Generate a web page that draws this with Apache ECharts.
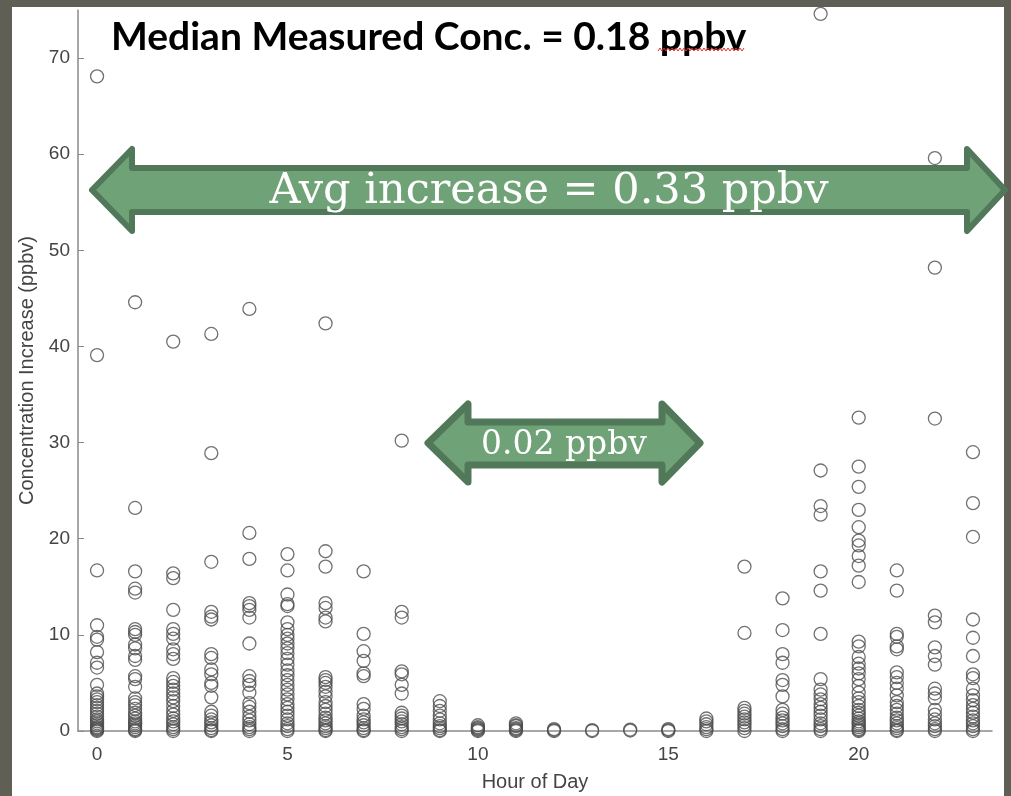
<!DOCTYPE html>
<html>
<head>
<meta charset="utf-8">
<script src="https://cdn.jsdelivr.net/npm/echarts@6/dist/echarts.min.js"></script>
<style>
  html, body { margin: 0; padding: 0; background: #5f5f56; }
  #wrap { position: relative; width: 1011px; height: 796px; background: #5f5f56; }
  #paper { position: absolute; left: 12px; top: 7px; width: 992px; height: 789px; background: #fff; }
  #main { position: absolute; left: 0; top: 0; width: 1011px; height: 796px; }
</style>
</head>
<body>
<div id="wrap">
  <div id="paper"></div>
  <div id="main"></div>
</div>
<script>
// concentration increase (ppbv) per hour of day
const hour0 = [68.1, 39.1, 16.7, 11.0, 9.8, 9.5, 8.2, 7.1, 6.6, 4.8, 3.9, 3.6, 3.3, 3.0, 2.7, 2.4, 2.1, 1.8, 1.5, 1.2, 1.0, 0.8, 0.6, 0.4, 0.3, 0.2, 0.1, 0];
const hour1 = [44.6, 23.2, 16.6, 14.8, 14.4, 10.6, 10.3, 10.0, 9.0, 8.6, 7.8, 7.4, 5.7, 5.4, 4.6, 3.4, 3.0, 2.7, 2.3, 1.9, 1.6, 1.3, 1.0, 0.8, 0.6, 0.4, 0.2, 0.1, 0];
const hour2 = [40.5, 16.4, 15.9, 12.6, 10.6, 10.1, 9.6, 8.5, 8.0, 7.5, 5.5, 5.1, 4.7, 4.3, 3.9, 3.5, 3.1, 2.6, 2.1, 1.7, 1.3, 1.0, 0.7, 0.4, 0.2, 0];
const hour3 = [41.3, 28.9, 17.6, 12.4, 11.9, 11.6, 8.0, 7.6, 6.4, 5.9, 5.0, 4.7, 3.5, 2.0, 1.6, 1.2, 0.9, 0.6, 0.3, 0.1, 0];
const hour4 = [43.9, 20.6, 17.9, 13.3, 13.0, 12.6, 11.8, 9.1, 5.7, 5.2, 4.8, 4.0, 2.9, 2.5, 2.0, 1.5, 1.1, 0.7, 0.4, 0.2, 0];
const hour5 = [18.4, 16.7, 14.2, 13.2, 13.0, 11.3, 10.6, 10.0, 9.6, 9.1, 8.6, 8.1, 7.5, 6.9, 6.3, 5.8, 5.3, 4.8, 4.3, 3.8, 3.3, 2.8, 2.4, 2.0, 1.6, 1.2, 0.8, 0.5, 0.2, 0];
const hour6 = [42.4, 18.7, 17.1, 13.3, 12.8, 11.8, 11.4, 5.6, 5.3, 5.0, 4.6, 4.1, 3.6, 3.0, 2.6, 2.2, 1.8, 1.4, 1.1, 0.8, 0.5, 0.3, 0.1, 0];
const hour7 = [16.6, 10.1, 8.3, 7.3, 6.0, 5.7, 2.8, 2.3, 1.6, 1.2, 0.9, 0.6, 0.3, 0.1, 0];
const hour8 = [30.2, 12.4, 11.8, 6.2, 5.9, 4.8, 3.9, 1.9, 1.6, 1.3, 1.0, 0.7, 0.4, 0.2, 0];
const hour9 = [3.1, 2.6, 2.1, 1.6, 1.2, 0.8, 0.5, 0.3, 0.1, 0];
const hour10 = [0.6, 0.4, 0.3, 0.2, 0.1, 0];
const hour11 = [0.8, 0.6, 0.5, 0.3, 0.2, 0.1, 0];
const hour12 = [0.2, 0.1, 0];
const hour13 = [0.1, 0];
const hour14 = [0.15, 0.05];
const hour15 = [0.2, 0.1, 0];
const hour16 = [1.3, 1.0, 0.7, 0.4, 0.2, 0];
const hour17 = [17.1, 10.2, 2.4, 2.1, 1.8, 1.5, 1.2, 0.9, 0.6, 0.3, 0];
const hour18 = [13.8, 10.5, 8.0, 7.1, 5.3, 4.8, 3.6, 2.2, 1.8, 1.4, 1.1, 0.8, 0.5, 0.2, 0];
const hour19 = [74.6, 27.1, 23.4, 22.5, 16.6, 14.6, 10.1, 5.4, 4.3, 3.8, 3.3, 2.8, 2.4, 2.0, 1.6, 1.2, 0.8, 0.5, 0.2, 0];
const hour20 = [32.6, 27.5, 25.4, 23.0, 21.2, 19.8, 19.3, 18.2, 17.2, 15.5, 9.3, 8.8, 7.7, 7.0, 6.5, 6.0, 5.4, 4.7, 4.0, 3.4, 3.0, 2.6, 2.2, 1.9, 1.6, 1.3, 1.0, 0.8, 0.6, 0.4, 0.2, 0.1, 0];
const hour21 = [16.7, 14.6, 10.1, 9.8, 8.8, 8.5, 6.1, 5.6, 5.0, 4.4, 3.7, 3.0, 2.6, 2.2, 1.8, 1.4, 1.1, 0.8, 0.5, 0.3, 0.1, 0];
const hour22 = [59.6, 48.2, 32.5, 12.0, 11.3, 8.7, 7.8, 6.9, 4.4, 3.9, 3.4, 2.2, 1.7, 1.2, 0.8, 0.5, 0.2, 0];
const hour23 = [29.0, 23.7, 20.2, 11.6, 9.7, 7.8, 5.9, 5.5, 4.4, 3.7, 3.2, 2.7, 2.3, 1.9, 1.5, 1.1, 0.8, 0.5, 0.2, 0];

const xTicks = [0, 5, 10, 15, 20];
const yTicks = [0, 10, 20, 30, 40, 50, 60, 70];

const titleText = "Median Measured Conc. = 0.18 ppbv";
const bigArrowText = "Avg increase = 0.33 ppbv";
const smallArrowText = "0.02 ppbv";

const byHour = [hour0, hour1, hour2, hour3, hour4, hour5, hour6, hour7, hour8, hour9, hour10, hour11,
  hour12, hour13, hour14, hour15, hour16, hour17, hour18, hour19, hour20, hour21, hour22, hour23];

let points = [];
for (let h = 0; h < byHour.length; h++) {
  for (let i = 0; i < byHour[h].length; i++) {
    points.push([h, byHour[h][i]]);
  }
}

// red spell-check squiggle under "ppbv"
let squiggle = [];
for (let x = 658, k = 0; x <= 745; x += 2, k++) {
  squiggle.push([x, k % 2 ? 48 : 51]);
}

const arrowFill = "#6fa276";
const arrowEdge = "#52785a";

const myChart = echarts.init(document.getElementById("main"));
const option = {
  animation: false,
  backgroundColor: "transparent",
  title: {
    text: titleText,
    left: 106,
    top: 13,
    textStyle: {
      fontFamily: "Lato",
      fontWeight: "bold",
      fontSize: 39,
      color: "#000"
    }
  },
  grid: {
    left: 78,
    right: 19,
    top: 10,
    bottom: 65,
    outerBoundsMode: "none"
  },
  xAxis: {
    type: "value",
    min: -0.5,
    max: 23.5,
    name: "Hour of Day",
    nameLocation: "middle",
    nameGap: 41,
    nameTextStyle: { fontFamily: "Liberation Sans", fontSize: 20, color: "#444" },
    axisLine: { onZero: false, lineStyle: { color: "#8a8a8a", width: 1.5 } },
    axisTick: { show: false },
    splitLine: { show: false },
    axisLabel: {
      customValues: xTicks,
      fontFamily: "Liberation Sans",
      fontSize: 19,
      color: "#444",
      margin: 14
    }
  },
  yAxis: {
    type: "value",
    min: 0,
    max: 75,
    name: "Concentration Increase (ppbv)",
    nameLocation: "middle",
    nameGap: 38,
    nameTextStyle: { fontFamily: "Liberation Sans", fontSize: 20, color: "#444" },
    axisLine: { show: true, onZero: false, lineStyle: { color: "#8a8a8a", width: 1.5 } },
    axisTick: {
      show: true,
      inside: true,
      length: 6,
      customValues: yTicks,
      lineStyle: { color: "#8a8a8a" }
    },
    splitLine: { show: false },
    axisLabel: {
      customValues: yTicks,
      fontFamily: "Liberation Sans",
      fontSize: 19,
      color: "#444",
      margin: 8
    }
  },
  series: [
    {
      type: "scatter",
      symbol: "circle",
      symbolSize: 13,
      itemStyle: {
        color: "rgba(0,0,0,0)",
        borderColor: "#4e4e4e",
        borderWidth: 1.3
      },
      data: points
    }
  ],
  graphic: [
    {
      type: "polyline",
      z: 50,
      shape: { points: squiggle },
      style: { stroke: "#e0302a", lineWidth: 1, fill: null }
    },
    {
      type: "polygon",
      z: 100,
      shape: {
        points: [[92, 190], [132, 149], [132, 168], [967, 168], [967, 149], [1005, 190],
          [967, 231], [967, 212], [132, 212], [132, 231]]
      },
      style: { fill: arrowFill, stroke: arrowEdge, lineWidth: 6, lineJoin: "round" }
    },
    {
      type: "text",
      z: 101,
      x: 549,
      y: 192,
      style: {
        text: bigArrowText,
        fill: "#fff",
        font: "43px 'DejaVu Serif'",
        align: "center",
        verticalAlign: "middle"
      }
    },
    {
      type: "polygon",
      z: 100,
      shape: {
        points: [[428, 443], [468, 404], [468, 422], [662, 422], [662, 404], [700, 443],
          [662, 482], [662, 465], [468, 465], [468, 482]]
      },
      style: { fill: arrowFill, stroke: arrowEdge, lineWidth: 7, lineJoin: "round" }
    },
    {
      type: "text",
      z: 101,
      x: 564,
      y: 445,
      style: {
        text: smallArrowText,
        fill: "#fff",
        font: "33px 'DejaVu Serif'",
        align: "center",
        verticalAlign: "middle"
      }
    }
  ]
};
myChart.setOption(option);
window.addEventListener("resize", () => {
  myChart.resize();
});
</script>
</body>
</html>
